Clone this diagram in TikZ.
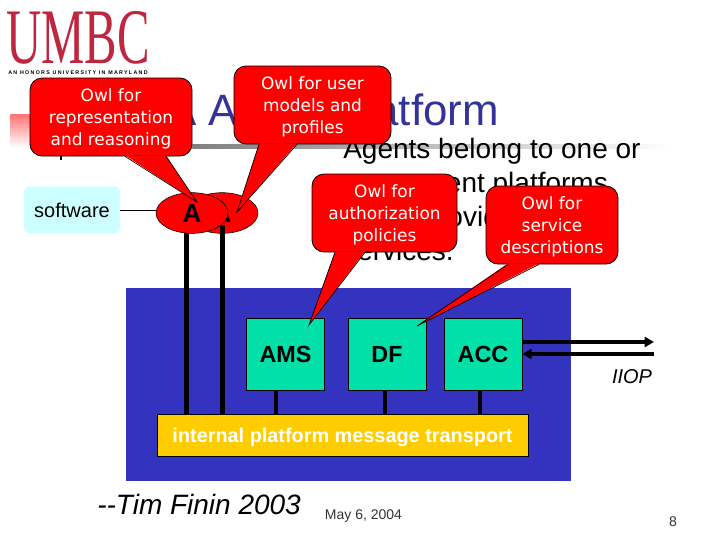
\documentclass[tikz,border=0pt]{standalone}
\usepackage{fontspec}
\setmainfont{Liberation Sans}
\newfontfamily\owlfont{DejaVu Sans}
\newfontfamily\logofont{Liberation Serif}
\usetikzlibrary{arrows.meta,positioning,calc,shapes.geometric}
\definecolor{umbcred}{HTML}{BE2740}
\definecolor{owlred}{HTML}{FF0000}
\definecolor{slateblue}{HTML}{3333BF}
\definecolor{titleblue}{HTML}{333399}
\definecolor{agentgreen}{HTML}{00E0A8}
\definecolor{busgold}{HTML}{FFCC00}
\definecolor{softcyan}{HTML}{CCFFFF}
\tikzset{
  owlbox/.style={
    rectangle, rounded corners=9pt, draw=black, fill=owlred, line width=0.6pt,
    text=white, align=center, inner sep=0pt, minimum height=58.5pt,
    font=\owlfont\fontsize{12.7}{16.5}\selectfont,
    text depth=0pt
  },
  owltail/.style={fill=owlred, draw=none},
  owledge/.style={draw=black, line width=0.5pt},
  agentblob/.style={
    ellipse, draw=black, fill=owlred, line width=0.4pt,
    minimum width=54pt, minimum height=30.5pt, inner sep=0pt
  },
  agentmark/.style={font=\bfseries\fontsize{19.5}{20}\selectfont, inner sep=0pt},
  platbox/.style={
    rectangle, draw=black, fill=agentgreen, line width=0.5pt,
    minimum width=58.5pt, minimum height=54pt, inner sep=0pt,
    font=\bfseries\fontsize{17.5}{20}\selectfont
  },
  busline/.style={draw=black, line width=3.6pt},
  iioparrow/.style={line width=3pt, draw=black, arrows={-{Triangle[length=7pt,width=7.5pt]}}},
  plainnote/.style={inner sep=0pt},
}
\begin{document}
\begin{tikzpicture}[x=0.75pt, y=-0.75pt]
  \useasboundingbox (0,0) rectangle (720,540);

  % UMBC logo
  \node[plainnote, text=umbcred, text depth=0pt, font=\logofont\fontsize{59}{60}\selectfont, xscale=0.62] (logo) at (78,37) {UMBC};
  \node[plainnote, font=\bfseries\fontsize{4}{5}\selectfont\addfontfeature{LetterSpace=24}] (motto) at (78,73) {AN HONORS UNIVERSITY IN MARYLAND};

  % Title and its rule
  \node[plainnote, top color=owlred!55, bottom color=white, minimum width=67.5pt, minimum height=25pt, anchor=north west] (fade) at (10,114) {};
  \node[plainnote, left color=black!50, right color=white, minimum width=360pt, minimum height=3pt, anchor=north west] (rule) at (192,144) {};
  \node[plainnote, anchor=base west, text=titleblue, font=\fontsize{32.9}{36}\selectfont] (title) at (102,125) {FIPA Agent Platform};
  \draw[line width=1pt] (61,152) -- (61,160);

  % Agents text
  \node[plainnote, anchor=north west, align=left, font=\fontsize{21}{25.5}\selectfont] (agentstext) at (343,138) {Agents belong to one or\\more agent platforms\\which provide basic\\services.};

  % Software and agents
  \node[plainnote, rectangle, rounded corners=4pt, fill=softcyan, minimum width=72pt, minimum height=35pt, font=\fontsize{15}{18}\selectfont] (software) at (72,210) {software};

  % Platform
  \node[plainnote, fill=slateblue, minimum width=333.75pt, minimum height=144.75pt, anchor=north west] (platform) at (126,288) {};
  \node[platbox] (ams) at (285.5,354) {AMS};
  \node[platbox] (df) at (387,354) {DF};
  \node[platbox] (acc) at (483,354) {ACC};
  \node[rectangle, draw=black, fill=busgold, line width=0.5pt, inner sep=0pt, minimum width=278.25pt, minimum height=31.5pt, text=white, text depth=0pt, font=\bfseries\fontsize{14.9}{18}\selectfont] (transport) at (342.5,435) {internal platform message transport};

  % Agent ellipses with lines to the bus
  \coordinate (lineback) at (222.5,225);
  \coordinate (linefront) at (186.5,225);
  \node[agentblob] (agentback) at (222,213) {};
  \node[agentmark] (markback) at (222,214) {A};
  \draw[busline] (lineback) -- (lineback |- transport.north);
  \draw[busline] (linefront) -- (linefront |- transport.north);
  \node[agentblob] (agentfront) at (192,213) {};
  \node[agentmark] (markfront) at (192,214) {A};
  \draw[line width=0.6pt] (software.east) -- (software.east -| agentfront.west);

  % Connections from the boxes to the bus
  \foreach \s/\xx in {ams/276,df/385,acc/480} {
    \draw[busline] (\xx,0 |- \s.south) -- (\xx,0 |- transport.north);
  }

  % IIOP arrows
  \coordinate (iiopout) at (654,342);
  \coordinate (iiopin) at (654,354);
  \draw[iioparrow] (acc.east |- iiopout) -- (iiopout);
  \draw[iioparrow] (iiopin) -- (acc.east |- iiopin);
  \node[plainnote, font=\itshape\fontsize{15}{18}\selectfont] (iiop) at (632,377) {IIOP};

  % Footer
  \node[plainnote, anchor=base west, font=\itshape\fontsize{21}{24}\selectfont] (credit) at (97,514) {-{}-Tim Finin 2003};
  \node[plainnote, text=black!80, font=\fontsize{10.5}{12}\selectfont] (date) at (363.5,516) {May 6, 2004};
  \node[plainnote, text=black!80, font=\fontsize{10.5}{12}\selectfont] (pagenum) at (673,522) {8};

  % Owl callouts
  \node[owlbox, minimum width=121.5pt] (owlrep) at (111,117) {Owl for\\representation\\and reasoning};
  \node[owlbox, minimum width=117.75pt] (owluser) at (312.5,105) {Owl for user\\models and\\profiles};
  \node[owlbox, minimum width=108.75pt] (owlauth) at (384.5,213) {Owl for\\authorization\\policies};
  \node[owlbox, minimum width=99pt] (owlserv) at (552,225) {Owl for\\service\\descriptions};

  % Callout tails
  \foreach \s/\aa/\bb/\tx/\ty in {owlrep/125/166/197/202,owluser/259/297/237/212,owlauth/335/365/309/325,owlserv/508/539/417/326} {
    \coordinate (\s tip) at (\tx,\ty);
    \coordinate (\s a) at (\aa,0 |- \s.south);
    \coordinate (\s b) at (\bb,0 |- \s.south);
    \fill[owltail] ([yshift=0.8pt]\s a) -- (\s tip) -- ([yshift=0.8pt]\s b) -- cycle;
    \draw[owledge] (\s a) -- (\s tip) -- (\s b);
  }
\end{tikzpicture}
\end{document}
